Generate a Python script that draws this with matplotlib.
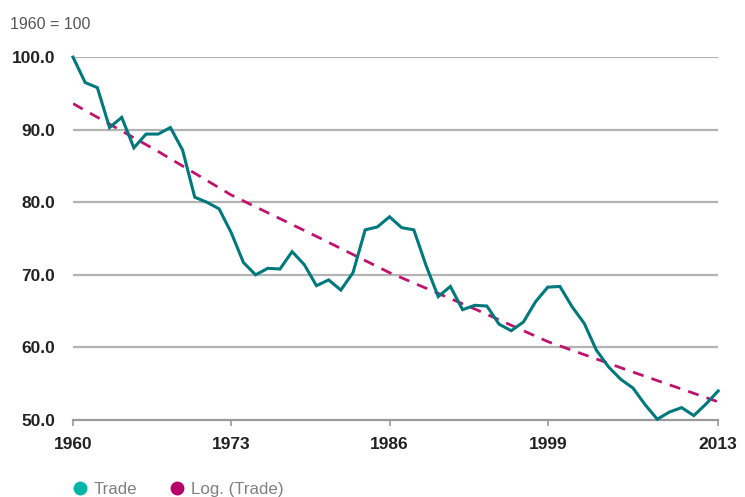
import matplotlib
matplotlib.use("Agg")
import matplotlib.pyplot as plt
from matplotlib.lines import Line2D

plt.rcParams['font.family'] = ['Liberation Sans', 'DejaVu Sans']

# Trade index, 1960 = 100
years = list(range(1960, 2014))
trade = [100.0, 96.5, 95.8, 90.3, 91.7, 87.5, 89.4, 89.4, 90.3, 87.2,
         80.7, 80.0, 79.1, 75.8, 71.7, 70.0, 70.9, 70.8, 73.2, 71.4,
         68.5, 69.3, 67.9, 70.3, 76.2, 76.6, 78.0, 76.5, 76.2, 71.3,
         67.0, 68.4, 65.2, 65.8, 65.7, 63.2, 62.3, 63.5, 66.3, 68.3,
         68.4, 65.6, 63.3, 59.6, 57.3, 55.6, 54.4, 52.1, 50.1, 51.1,
         51.7, 50.6, 52.2, 54.0]

# trend line, read at a few years
trend_years = [1960, 1967, 1973, 1980, 1986, 1993, 1999, 2006, 2013]
trend_vals = [93.6, 87.0, 81.0, 75.3, 70.3, 65.3, 60.8, 56.6, 52.5]

xticks = [1960, 1973, 1986, 1999, 2013]
yticks = [50, 60, 70, 80, 90, 100]

line_col = '#00797c'
trend_col = '#c0136e'

fig = plt.figure(figsize=(7.45, 4.97), dpi=100)
ax = fig.add_axes([0.098, 0.155, 0.866, 0.730])

for y in yticks[1:]:
    ax.axhline(y, color='#b3b3b3', lw=1.6, zorder=1)

ax.plot(years, trade, color=line_col, lw=2.2, zorder=3, clip_on=False,
        solid_joinstyle='miter')
ax.plot(trend_years, trend_vals, color=trend_col, lw=2.0, zorder=2,
        dashes=(4, 3))

ax.set_xlim(1960, 2013)
ax.set_ylim(50, 100)
ax.set_xticks(xticks)
ax.set_yticks(yticks)
ax.set_yticklabels([f'{v:.1f}' for v in yticks])

for s in ['top', 'right', 'left']:
    ax.spines[s].set_visible(False)
ax.spines['bottom'].set_color('#9a9a9a')
ax.spines['bottom'].set_linewidth(1.6)

ax.tick_params(axis='y', length=0, pad=13, labelsize=12.5, labelcolor='#222222')
ax.tick_params(axis='x', length=4, width=1.2, color='#9a9a9a', pad=8,
               labelsize=12.5, labelcolor='#222222')
for lab in ax.get_xticklabels() + ax.get_yticklabels():
    lab.set_fontweight('bold')

fig.text(0.013, 0.950, '1960 = 100', fontsize=11.5, color='#555555',
         va='center', ha='left')

handles = [
    Line2D([], [], marker='o', ls='none', markersize=10,
           markerfacecolor='#00b5a8', markeredgecolor='none', label='Trade'),
    Line2D([], [], marker='o', ls='none', markersize=10,
           markerfacecolor='#b8006d', markeredgecolor='none', label='Log. (Trade)'),
]
fig.legend(handles=handles, loc='center left', bbox_to_anchor=(0.076, 0.016),
           ncol=2, frameon=False, fontsize=12.2, labelcolor='#808080',
           handletextpad=0.3, columnspacing=1.85, handlelength=1.0)

fig.savefig('out.png', dpi=100)
